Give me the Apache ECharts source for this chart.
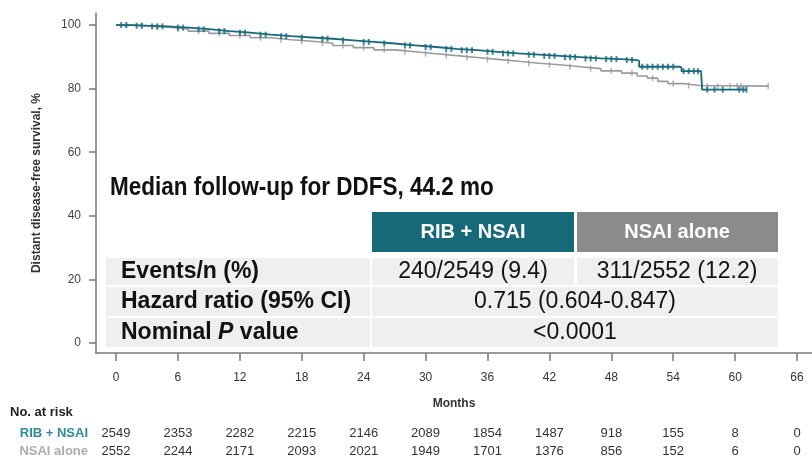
<!DOCTYPE html>
<html>
<head>
<meta charset="utf-8">
<script src="https://cdn.jsdelivr.net/npm/echarts@6/dist/echarts.min.js"></script>
<style>html,body{margin:0;padding:0;background:#fff}#c{width:812px;height:457px}</style>
</head>
<body>
<div id="c"></div>
<script>
// ---- data ----
const xTicks = [0, 6, 12, 18, 24, 30, 36, 42, 48, 54, 60, 66];
const yTicks = [0, 20, 40, 60, 80, 100];
const seriesNames = ['RIB + NSAI', 'NSAI alone'];
const ribCurve = [[0,100],[1.5,99.8],[3,99.6],[5,99.2],[7,98.7],[9,98.1],[11,97.6],[13,97.0],[15,96.5],[17,96.1],[19,95.7],[21,95.2],[23,94.7],[25,94.2],[27,93.6],[29,93.1],[31,92.5],[33,92.1],[35,91.6],[37,91.1],[39,90.7],[41,90.3],[43,89.9],[45,89.5],[47,89.3],[49,89.0],[50.5,88.7],[50.7,86.9],[54.6,86.7],[54.8,85.5],[56.7,85.3],[56.8,79.7],[61.1,79.7]];
const nsaiCurve = [[0,100],[1.5,99.7],[3,99.3],[5,98.8],[7,98.1],[9,97.4],[11,96.7],[13,96.0],[15,95.4],[17,94.9],[19,94.3],[21,93.6],[23,92.9],[25,92.2],[27,91.6],[29,91.0],[31,90.4],[33,89.8],[35,89.2],[37,88.6],[39,88.0],[41,87.5],[43,86.9],[45,86.3],[47,85.6],[49,84.9],[50.5,84.0],[51.5,83.3],[52.5,82.3],[53.5,81.6],[55,81.0],[56.5,80.8],[63.2,80.8]];
const ribCensor = [[0.5,100],[1,100],[2,99.8],[2.5,99.8],[3.5,99.6],[4,99.6],[4.5,99.6],[6,99.2],[6.5,99.2],[8,98.7],[8.5,98.7],[10,98.1],[10.5,98.1],[12,97.6],[12.5,97.6],[14,97.0],[14.5,97.0],[16,96.5],[16.5,96.5],[18,96.1],[20,95.7],[20.5,95.7],[22,95.2],[24,94.7],[24.5,94.7],[26,94.2],[28,93.6],[28.5,93.6],[30,93.1],[30.5,93.1],[32,92.5],[32.5,92.5],[33.5,92.1],[34,92.1],[34.5,92.1],[36,91.6],[36.5,91.6],[37.5,91.1],[38,91.1],[38.5,91.1],[40,90.7],[40.5,90.7],[41.5,90.3],[42,90.3],[42.5,90.3],[43.5,89.9],[44,89.9],[44.5,89.9],[45.5,89.5],[46,89.5],[46.5,89.5],[47.5,89.3],[48,89.3],[48.5,89.3],[49.5,89.0],[50,89.0],[51,86.9],[51.5,86.9],[52,86.9],[52.5,86.9],[53,86.9],[53.5,86.9],[54,86.9],[55,85.5],[55.5,85.5],[56,85.5],[56.4,85.5],[57.3,79.7],[58,79.7],[58.8,79.7],[60.4,79.7],[60.8,79.7],[61.1,79.7]];
const nsaiCensor = [[1,100],[2.5,99.7],[4,99.3],[6,98.8],[8,98.1],[10,97.4],[12,96.7],[14,96.0],[16,95.4],[18,94.9],[20,94.3],[22,93.6],[24,92.9],[26,92.2],[28,91.6],[30,91.0],[32,90.4],[34,89.8],[36,89.2],[38,88.6],[40,88.0],[42,87.5],[44,86.9],[46,86.3],[48,85.6],[50,84.9],[52,83.3],[54,81.6],[55.5,81.0],[57.3,80.8],[58.3,80.8],[59.5,80.8],[60.2,80.8],[60.6,80.8],[63.2,80.8]];
const riskRib = [2549, 2353, 2282, 2215, 2146, 2089, 1854, 1487, 918, 155, 8, 0];
const riskNsai = [2552, 2244, 2171, 2093, 2021, 1949, 1701, 1376, 856, 152, 6, 0];
const titleText = 'Median follow-up for DDFS, 44.2 mo';
const tableRows = [
  ['Events/n (%)', '240/2549 (9.4)', '311/2552 (12.2)'],
  ['Hazard ratio (95% CI)', '0.715 (0.604-0.847)'],
  ['Nominal P value', '<0.0001']
];

const TEAL = '#17697a', GRAY = '#9b9b9b', HEADGRAY = '#8a8b8b';
const FONT = '"Liberation Sans", Arial, sans-serif';

const chart = echarts.init(document.getElementById('c'), null, {renderer: 'canvas'});

const axisLineStyle = {color: '#7a7a7a', width: 1.5};
chart.setOption({
  animation: false,
  textStyle: {fontFamily: FONT},
  grid: {left: 96, right: 0, top: 13, bottom: 104, containLabel: false},
  xAxis: {
    type: 'value', min: -1.94, max: 67.45,
    name: 'Months', nameLocation: 'middle', nameGap: 45,
    nameTextStyle: {fontWeight: 'bold', fontSize: 12, color: '#333', fontFamily: FONT},
    axisLine: {onZero: false, lineStyle: axisLineStyle},
    axisTick: {show: true, length: 8, lineStyle: axisLineStyle, customValues: xTicks},
    axisLabel: {fontSize: 12, color: '#333', margin: 19, customValues: xTicks, fontFamily: FONT},
    splitLine: {show: false}
  },
  yAxis: {
    type: 'value', min: -3.15, max: 103.8,
    name: 'Distant disease-free survival, %', nameLocation: 'middle', nameGap: 53,
    nameTextStyle: {fontWeight: 'bold', fontSize: 12, color: '#333', fontFamily: FONT},
    axisLine: {show: true, onZero: false, lineStyle: axisLineStyle},
    axisTick: {show: true, length: 7, lineStyle: axisLineStyle, customValues: yTicks},
    axisLabel: {fontSize: 12, color: '#444', margin: 15, customValues: yTicks, fontFamily: FONT},
    splitLine: {show: false}
  },
  series: [
    {name: seriesNames[1], type: 'line', step: 'end', data: nsaiCurve, showSymbol: false, lineStyle: {color: GRAY, width: 1.6}, z: 2},
    {name: seriesNames[1] + ' censor', type: 'scatter', data: nsaiCensor, symbol: 'rect', symbolSize: [1.5, 6], itemStyle: {color: GRAY}, z: 2},
    {name: seriesNames[0], type: 'line', step: 'end', data: ribCurve, showSymbol: false, lineStyle: {color: TEAL, width: 1.8}, z: 3},
    {name: seriesNames[0] + ' censor', type: 'scatter', data: ribCensor, symbol: 'rect', symbolSize: [2, 6], itemStyle: {color: TEAL}, z: 3}
  ]
});

// ---- overlays: table + at-risk ----
const g = [];
g.push({type: 'text', left: 110, top: 176, z: 10, style: {text: titleText, font: 'bold 25px ' + FONT, fill: '#111'}, scaleX: 0.9, originX: 110});
// header boxes
g.push({type: 'rect', shape: {x: 372, y: 212, width: 202, height: 40}, style: {fill: TEAL}, z: 10});
g.push({type: 'rect', shape: {x: 577, y: 212, width: 201, height: 40}, style: {fill: HEADGRAY}, z: 10});
g.push({type: 'text', x: 473, y: 232, z: 11, style: {text: seriesNames[0], font: 'bold 20px ' + FONT, fill: '#fff', align: 'center', verticalAlign: 'middle'}});
g.push({type: 'text', x: 677, y: 232, z: 11, style: {text: seriesNames[1], font: 'bold 20px ' + FONT, fill: '#fff', align: 'center', verticalAlign: 'middle'}});
const rowTops = [258, 287, 318];
const rowH = [27, 29, 29];
const BG = '#efefef';
rowTops.forEach((t, i) => {
  g.push({type: 'rect', shape: {x: 106, y: t, width: 264, height: rowH[i]}, style: {fill: BG}, z: 9});
  if (i === 0) {
    g.push({type: 'rect', shape: {x: 372, y: t, width: 202, height: rowH[i]}, style: {fill: BG}, z: 9});
    g.push({type: 'rect', shape: {x: 577, y: t, width: 201, height: rowH[i]}, style: {fill: BG}, z: 9});
  } else {
    g.push({type: 'rect', shape: {x: 372, y: t, width: 406, height: rowH[i]}, style: {fill: BG}, z: 9});
  }
  const cy = t + rowH[i] / 2 + 0.5;
  const row = tableRows[i];
  if (i === 2) {
    g.push({type: 'text', x: 121, y: cy, z: 11, style: {
      text: '{b|Nominal }{i|P}{b| value}',
      rich: {b: {font: 'bold 23px ' + FONT, fill: '#111'}, i: {font: 'italic bold 23px ' + FONT, fill: '#111'}},
      verticalAlign: 'middle'}});
  } else {
    g.push({type: 'text', x: 121, y: cy, z: 11, style: {text: row[0], font: 'bold 23px ' + FONT, fill: '#111', verticalAlign: 'middle'}});
  }
  if (row.length === 3) {
    g.push({type: 'text', x: 473, y: cy, z: 11, style: {text: row[1], font: '23px ' + FONT, fill: '#111', align: 'center', verticalAlign: 'middle'}});
    g.push({type: 'text', x: 677, y: cy, z: 11, style: {text: row[2], font: '23px ' + FONT, fill: '#111', align: 'center', verticalAlign: 'middle'}});
  } else {
    g.push({type: 'text', x: 575, y: cy, z: 11, style: {text: row[1], font: '23px ' + FONT, fill: '#111', align: 'center', verticalAlign: 'middle'}});
  }
});
// at-risk table
g.push({type: 'text', x: 10, y: 412, style: {text: 'No. at risk', font: 'bold 13px ' + FONT, fill: '#222', verticalAlign: 'middle'}});
g.push({type: 'text', x: 88, y: 433, style: {text: seriesNames[0], font: 'bold 13px ' + FONT, fill: '#2f8a9c', align: 'right', verticalAlign: 'middle'}});
g.push({type: 'text', x: 88, y: 451, style: {text: seriesNames[1], font: 'bold 13px ' + FONT, fill: '#adadad', align: 'right', verticalAlign: 'middle'}});
xTicks.forEach((t, i) => {
  const px = chart.convertToPixel({xAxisIndex: 0}, t);
  g.push({type: 'text', x: px, y: 433, style: {text: String(riskRib[i]), font: '13px ' + FONT, fill: '#333', align: 'center', verticalAlign: 'middle'}});
  g.push({type: 'text', x: px, y: 451, style: {text: String(riskNsai[i]), font: '13px ' + FONT, fill: '#333', align: 'center', verticalAlign: 'middle'}});
});
chart.setOption({graphic: g});
</script>
</body>
</html>
